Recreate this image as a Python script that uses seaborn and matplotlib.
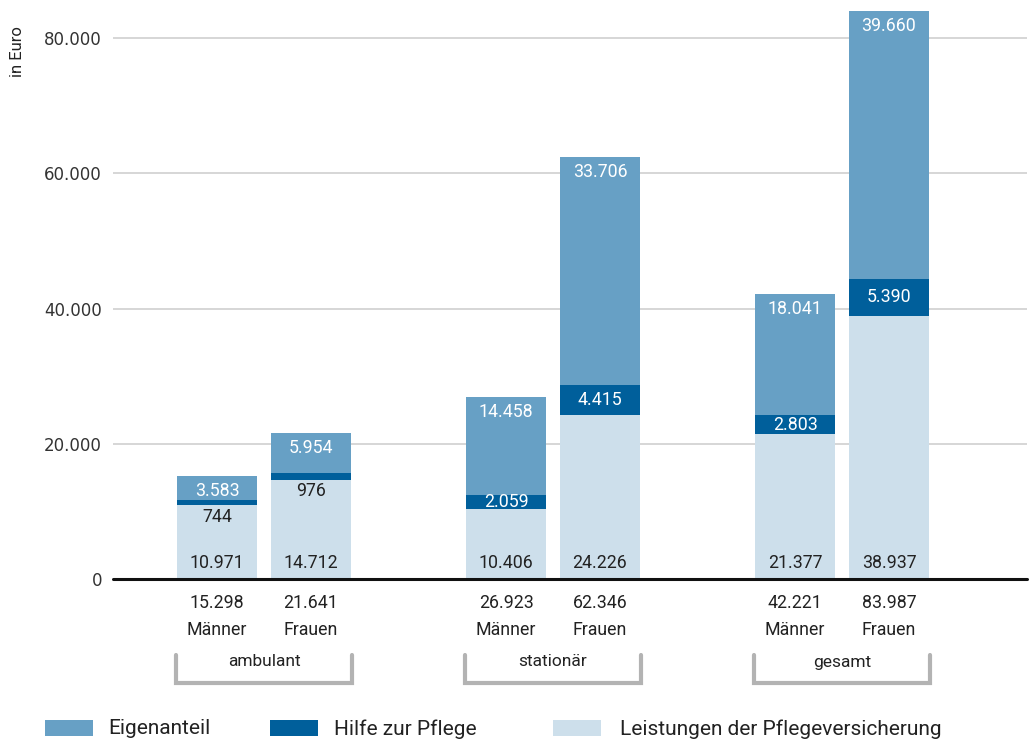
import matplotlib
matplotlib.use("Agg")
import matplotlib.pyplot as plt
import matplotlib.transforms as mtransforms
from matplotlib.patches import Rectangle
import pandas as pd
import seaborn as sns

gruppen = ["ambulant", "stationär", "gesamt"]
geschlecht = ["Männer", "Frauen"]
leistungen = [10971, 14712, 10406, 24226, 21377, 38937]
hilfe = [744, 976, 2059, 4415, 2803, 5390]
eigen = [3583, 5954, 14458, 33706, 18041, 39660]
gesamt_lbl = ["15.298", "21.641", "26.923", "62.346", "42.221", "83.987"]
yticks = [0, 20000, 40000, 60000, 80000]

c_eigen = "#67a0c5"
c_hilfe = "#005f9b"
c_leist = "#cddfeb"
dark = "#222222"

df = pd.DataFrame({
    "Gruppe": [g for g in gruppen for _ in geschlecht],
    "Geschlecht": geschlecht * len(gruppen),
    "leistungen": leistungen,
    "hilfe": hilfe,
    "eigen": eigen,
})
df["stufe2"] = df["leistungen"] + df["hilfe"]
df["stufe3"] = df["stufe2"] + df["eigen"]

sns.set_style("white")
plt.rcParams["font.family"] = ["Roboto", "DejaVu Sans"]

fig = plt.figure(figsize=(10.33, 7.43), dpi=100)
ax = fig.add_axes([113 / 1033, 164 / 743, 914 / 1033, 568 / 743])

W, GAP = 0.65, 0.15
for col, color in [("stufe3", c_eigen), ("stufe2", c_hilfe), ("leistungen", c_leist)]:
    sns.barplot(data=df, x="Gruppe", y=col, hue="Geschlecht", order=gruppen,
                hue_order=geschlecht, palette=[color, color], width=W, gap=GAP,
                errorbar=None, saturation=1, legend=False, ax=ax, zorder=3,
                linewidth=0)

ax.set_xlim(-0.5225, 2.640)
ax.set_ylim(0, 84000)
ax.set_yticks(yticks)
ax.set_yticklabels(["0"] + [f"{v:,}".replace(",", ".") for v in yticks[1:]],
                   family="DejaVu Sans", fontsize=12, color="#333333")
ax.tick_params(axis="y", length=0, pad=8)
ax.tick_params(axis="x", length=0, labelbottom=False)
ax.set_xlabel("")
ax.set_ylabel("")
for s in ax.spines.values():
    s.set_visible(False)
ax.yaxis.grid(True, color="#d0d0d0", lw=1.2, zorder=0)
ax.axhline(0, color="#111111", lw=2.2, zorder=5, clip_on=False)

off = W / 4
fs = 12.8
i = 0
for gi, g in enumerate(gruppen):
    for si, s in enumerate(geschlecht):
        x = gi + (-off if si == 0 else off)
        l, h, e = leistungen[i], hilfe[i], eigen[i]
        top = l + h + e
        ax.annotate(f"{e:,}".replace(",", "."), (x, top), xytext=(0, -15),
                    textcoords="offset pixels", ha="center", va="center",
                    color="white", fontsize=fs, zorder=6)
        if h >= 1000:
            ax.annotate(f"{h:,}".replace(",", "."), (x, l + h / 2), ha="center",
                        va="center", color="white", fontsize=fs, zorder=6)
        else:
            ax.annotate(str(h), (x, l + h / 2), xytext=(0, -15),
                        textcoords="offset pixels", ha="center", va="center",
                        color=dark, fontsize=fs, zorder=6)
        ax.annotate(f"{l:,}".replace(",", "."), (x, 0), xytext=(0, 16),
                    textcoords="offset pixels", ha="center", va="center",
                    color=dark, fontsize=fs, zorder=6)
        ax.annotate(gesamt_lbl[i], (x, 0), xytext=(0, -24),
                    textcoords="offset pixels", ha="center", va="center",
                    color=dark, fontsize=fs, annotation_clip=False)
        ax.annotate(s, (x, 0), xytext=(0, -51), textcoords="offset pixels",
                    ha="center", va="center", color=dark, fontsize=fs,
                    annotation_clip=False)
        i += 1

# Klammern unter den Gruppen
tr = mtransforms.blended_transform_factory(ax.transData, fig.transFigure)
half = W / 2 - (W / 2) * GAP / 2 + 0.005
yt, yb = 1 - 655 / 743, 1 - 683 / 743
for gi, g in enumerate(gruppen):
    ax.plot([gi - half, gi - half, gi + half, gi + half], [yt, yb, yb, yt],
            transform=tr, color="#b3b3b3", lw=3, clip_on=False,
            solid_joinstyle="miter")
    ax.text(gi, 1 - 662 / 743, g, transform=tr, ha="center", va="center",
            color=dark, fontsize=12.5)

fig.text(17 / 1033, 1 - 52 / 743, "in Euro", rotation=90, ha="center",
         va="center", fontsize=12, color=dark)

# Legende
for x0, txt_x, color, label in [(45, 108, c_eigen, "Eigenanteil"),
                                (270, 334, c_hilfe, "Hilfe zur Pflege"),
                                (553, 620, c_leist, "Leistungen der Pflegeversicherung")]:
    fig.add_artist(Rectangle((x0 / 1033, 1 - 736 / 743), 48 / 1033, 16 / 743,
                             transform=fig.transFigure, color=color, lw=0))
    fig.text(txt_x / 1033, 1 - 729 / 743, label, ha="left", va="center",
             fontsize=15, color=dark)

fig.savefig("out.png", dpi=100)
